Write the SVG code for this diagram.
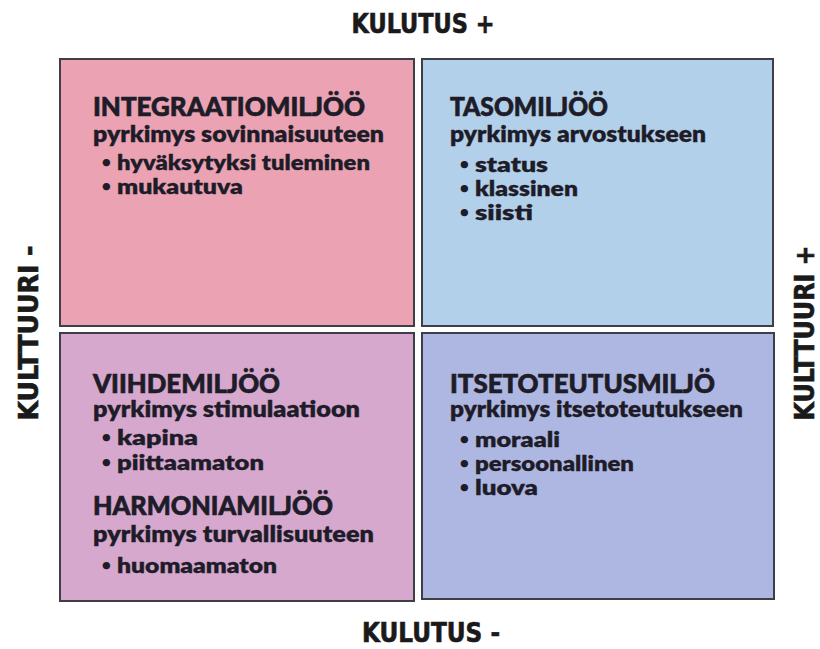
<svg xmlns="http://www.w3.org/2000/svg" width="820" height="649" viewBox="0 0 820 649">
<style>
.box{stroke:#3e3e46;stroke-width:2}
.t{font-family:Lato,"Open Sans",sans-serif;font-weight:900;fill:#1e1c28;stroke:#1e1c28;stroke-width:0.7;font-size:27px}
.s{font-family:Lato,"Open Sans",sans-serif;font-weight:800;fill:#1e1c28;stroke:#1e1c28;stroke-width:0.3;font-size:23px}
.b{font-family:Lato,"Open Sans",sans-serif;font-weight:800;fill:#1e1c28;stroke:#1e1c28;stroke-width:0.3;font-size:21px}
.d{font-family:Lato,"Open Sans",sans-serif;font-weight:800;fill:#1e1c28;font-size:15px}
.ax{font-family:"DejaVu Sans Condensed","Liberation Sans Narrow","Liberation Sans",sans-serif;font-weight:700;fill:#1a1a1a;stroke:#1a1a1a;stroke-width:0.6;font-size:26px;text-anchor:middle}
</style>
<rect width="820" height="649" fill="#ffffff"/>
<g id="integraatio">
<rect class="box" x="60" y="59" width="354" height="267" fill="#eba3b3"/>
<text class="t" x="93" y="116" textLength="272" lengthAdjust="spacingAndGlyphs">INTEGRAATIOMILJÖÖ</text>
<text class="s" x="93" y="142" textLength="291" lengthAdjust="spacingAndGlyphs">pyrkimys sovinnaisuuteen</text>
<text class="d" x="102" y="167">•</text>
<text class="b" x="117" y="170" textLength="253" lengthAdjust="spacingAndGlyphs">hyväksytyksi tuleminen</text>
<text class="d" x="102" y="191">•</text>
<text class="b" x="117" y="194" textLength="126" lengthAdjust="spacingAndGlyphs">mukautuva</text>
</g>
<g id="taso">
<rect class="box" x="422" y="59" width="351" height="267" fill="#b3d0ea"/>
<text class="t" x="450" y="116" textLength="158" lengthAdjust="spacingAndGlyphs">TASOMILJÖÖ</text>
<text class="s" x="450" y="142" textLength="256" lengthAdjust="spacingAndGlyphs">pyrkimys arvostukseen</text>
<text class="d" x="460" y="169">•</text>
<text class="b" x="475" y="172" textLength="73" lengthAdjust="spacingAndGlyphs">status</text>
<text class="d" x="460" y="193">•</text>
<text class="b" x="475" y="196" textLength="103" lengthAdjust="spacingAndGlyphs">klassinen</text>
<text class="d" x="460" y="217">•</text>
<text class="b" x="475" y="220" textLength="58" lengthAdjust="spacingAndGlyphs">siisti</text>
</g>
<g id="viihde">
<rect class="box" x="60" y="333" width="354" height="268" fill="#d6a8ce"/>
<text class="t" x="93" y="393" textLength="187" lengthAdjust="spacingAndGlyphs">VIIHDEMILJÖÖ</text>
<text class="s" x="93" y="417" textLength="267" lengthAdjust="spacingAndGlyphs">pyrkimys stimulaatioon</text>
<text class="d" x="102" y="442">•</text>
<text class="b" x="117" y="445" textLength="81" lengthAdjust="spacingAndGlyphs">kapina</text>
<text class="d" x="102" y="467">•</text>
<text class="b" x="117" y="470" textLength="147" lengthAdjust="spacingAndGlyphs">piittaamaton</text>
<text class="t" x="93" y="515" textLength="240" lengthAdjust="spacingAndGlyphs">HARMONIAMILJÖÖ</text>
<text class="s" x="93" y="542" textLength="281" lengthAdjust="spacingAndGlyphs">pyrkimys turvallisuuteen</text>
<text class="d" x="102" y="570">•</text>
<text class="b" x="117" y="573" textLength="160" lengthAdjust="spacingAndGlyphs">huomaamaton</text>
</g>
<g id="itsetoteutus">
<rect class="box" x="422" y="333" width="352" height="266" fill="#aeb7e1"/>
<text class="t" x="450" y="393" textLength="265" lengthAdjust="spacingAndGlyphs">ITSETOTEUTUSMILJÖ</text>
<text class="s" x="450" y="417" textLength="293" lengthAdjust="spacingAndGlyphs">pyrkimys itsetoteutukseen</text>
<text class="d" x="460" y="444">•</text>
<text class="b" x="475" y="447" textLength="85" lengthAdjust="spacingAndGlyphs">moraali</text>
<text class="d" x="460" y="468">•</text>
<text class="b" x="475" y="471" textLength="159" lengthAdjust="spacingAndGlyphs">persoonallinen</text>
<text class="d" x="460" y="492">•</text>
<text class="b" x="475" y="495" textLength="63" lengthAdjust="spacingAndGlyphs">luova</text>
</g>
<g id="axes">
<text class="ax" x="423" y="33" textLength="143" lengthAdjust="spacingAndGlyphs">KULUTUS +</text>
<text class="ax" x="431" y="642" textLength="138" lengthAdjust="spacingAndGlyphs">KULUTUS -</text>
<text class="ax" transform="translate(38,333) rotate(-90)" textLength="175" lengthAdjust="spacingAndGlyphs">KULTTUURI -</text>
<text class="ax" transform="translate(814,333) rotate(-90)" textLength="175" lengthAdjust="spacingAndGlyphs">KULTTUURI +</text>
</g>
<g id="connectors"></g>
</svg>
